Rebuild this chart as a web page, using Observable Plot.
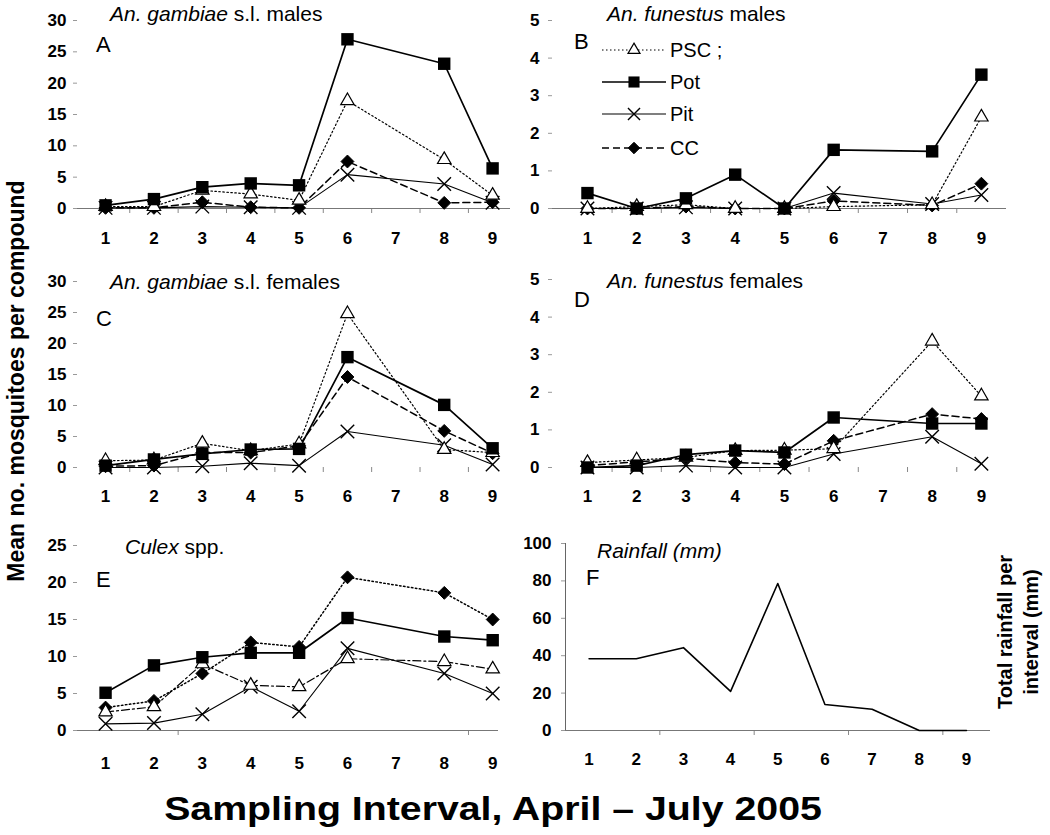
<!DOCTYPE html>
<html><head><meta charset="utf-8">
<script src="https://cdn.jsdelivr.net/npm/d3@7"></script>
<script src="https://cdn.jsdelivr.net/npm/@observablehq/plot@0.6"></script>
<style>
body{margin:0;background:#fff;}
#fig{position:relative;width:1050px;height:835px;font-family:"Liberation Sans",Arial,Helvetica,sans-serif;color:#000;overflow:hidden;background:#fff}
#fig svg{position:absolute;overflow:visible;background:transparent}
.t{position:absolute;white-space:nowrap;line-height:1;transform:translateY(-50%)}
.title{font-size:21px}
.letter{font-size:22px}
</style></head><body><div id="fig"></div><script>
// ---------- data ----------
const intervalLabels = [1,2,3,4,5,6,7,8,9];          // x tick labels
const sampled = [1,2,3,4,5,6,8,9];                     // intervals with mosquito data
const seriesNames = ["PSC","Pot","Pit","CC"];
const ticks30 = [0,5,10,15,20,25,30];
const ticks5 = [0,1,2,3,4,5];
const ticks25 = [0,5,10,15,20,25];
const ticks100 = [0,20,40,60,80,100];

// A: An. gambiae s.l. males
const gamMalesPSC = [0.3,0.3,2.9,2.3,1.3,17.2,7.8,2.1];
const gamMalesPot = [0.5,1.5,3.4,4.0,3.7,27.0,23.1,6.4];
const gamMalesPit = [0.1,0.1,0.3,0.2,0.1,5.4,3.9,0.9];
const gamMalesCC  = [0.1,0.1,1.0,0.2,0.1,7.5,0.9,1.0];
// B: An. funestus males
const funMalesPSC = [0,0.05,0.1,0,0,0.05,0.1,2.43];
const funMalesPot = [0.41,0,0.27,0.9,0,1.56,1.52,3.56];
const funMalesPit = [0,0,0.03,0,0,0.41,0.12,0.36];
const funMalesCC  = [0,0,0.05,0,0,0.2,0.08,0.66];
// C: An. gambiae s.l. females
const gamFemPSC = [1.1,1.2,3.9,2.7,3.8,24.8,2.9,2.4];
const gamFemPot = [0.3,1.3,2.2,2.9,3.0,17.8,10.1,3.1];
const gamFemPit = [0,0,0.2,0.7,0.3,5.8,3.6,0.5];
const gamFemCC  = [0.2,0.3,2.4,2.4,3.5,14.6,5.9,2.3];
// D: An. funestus females
const funFemPSC = [0.13,0.2,0.27,0.45,0.46,0.5,3.36,1.9];
const funFemPot = [0.0,0.05,0.34,0.45,0.4,1.33,1.17,1.17];
const funFemPit = [0,0,0.05,0,0,0.36,0.82,0.1];
const funFemCC  = [0.05,0.15,0.25,0.13,0.09,0.71,1.42,1.29];
// E: Culex spp.
const culexPSC = [2.5,3.2,9.0,6.1,5.9,9.7,9.3,8.3];
const culexPot = [5.1,8.8,9.9,10.5,10.5,15.2,12.7,12.2];
const culexPit = [0.9,1.0,2.2,5.9,2.6,11.1,7.7,5.0];
const culexCC  = [3.1,4.0,7.7,11.9,11.3,20.7,18.6,15.0];
// F: rainfall (mm) per interval 1..9
const rainfall = [38.4,38.4,44.3,20.9,78.6,13.9,11.4,0,0];

// ---------- styles ----------
const FONT = "Liberation Sans, Arial, Helvetica, sans-serif";
const style = {
  PSC: {dash:"1.5,2.5", sw:1.2, symbol:"triangle2", fill:"white", stroke:"black", r:6.4, msw:1.2},
  Pot: {dash:null, sw:1.7, symbol:"square", fill:"black", stroke:"black", r:7, msw:0},
  Pit: {dash:null, sw:1.1, symbol:"times", fill:"none", stroke:"black", r:6.2, msw:1.4},
  CC:  {dash:"7,4", sw:1.5, symbol:"diamond2", fill:"black", stroke:"black", r:5.8, msw:1}
};

const fig = document.getElementById("fig");

function panel({left, top, w, h, xd, xr, yd, yr, yticks, ygap, xpad, tickMarks, axisLine, series, rain, dashOverride}) {
  const marks = [];
  marks.push(Plot.axisY(yticks, {tickSize:4, tickPadding:ygap, stroke:"#999", fill:"#000", fontWeight:"bold", label:null}));
  marks.push(Plot.axisX(intervalLabels, {tickSize:0, tickPadding:xpad, fill:"#000", fontWeight:"bold", label:null}));
  marks.push(Plot.axisX(tickMarks, {tickSize:5, tickFormat:() => "", stroke:"#888", label:null}));
  if (axisLine) marks.push(Plot.ruleY([yd[0]], {stroke:"#777", strokeWidth:1}));
  if (rain) {
    marks.push(Plot.ruleX([xd[0]], {stroke:"#666", strokeWidth:1}));
    marks.push(Plot.line(intervalLabels.map((x,i)=>({x, v:rain[i]})), {x:"x", y:"v", stroke:"black", strokeWidth:1.6}));
  }
  if (series) {
    for (const name of seriesNames) {
      const st = style[name];
      const dash = dashOverride && dashOverride[name] !== undefined ? dashOverride[name] : st.dash;
      const rows = sampled.map((x,i)=>({x, v:series[name][i]}));
      marks.push(Plot.line(rows, {x:"x", y:"v", stroke:"black", strokeWidth:st.sw, strokeDasharray:dash || undefined}));
    }
    for (const name of ["Pit","CC","PSC","Pot"]) {
      const st = style[name];
      const rows = sampled.map((x,i)=>({x, v:series[name][i]}));
      marks.push(Plot.dot(rows, {x:"x", y:"v", symbol:()=>st.symbol, r:st.r, fill:st.fill, stroke:st.stroke, strokeWidth:st.msw}));
    }
  }
  const svg = Plot.plot({
    width:w, height:h,
    marginLeft: xr[0]-left, marginRight: left+w-xr[1],
    marginTop: yr[1]-top, marginBottom: top+h-yr[0],
    x:{domain:xd, axis:null, label:null},
    y:{domain:yd, axis:null, label:null},
    symbol:{type:"identity"},
    style:{fontFamily:FONT, fontSize:"17px", background:"transparent", overflow:"visible"},
    marks
  });
  svg.style.left = left+"px";
  svg.style.top = top+"px";
  fig.appendChild(svg);
}

const bA = [1.5,2.5,3.5,4.5,5.5,6.5,7.5,8.5];
panel({left:0, top:0, w:525, h:260, xd:[0.42,9.37], xr:[77,510], yd:[0,30], yr:[208,20], yticks:ticks30, ygap:7, xpad:23, tickMarks:bA, axisLine:true,
  series:{PSC:gamMalesPSC, Pot:gamMalesPot, Pit:gamMalesPit, CC:gamMalesCC}});
panel({left:520, top:0, w:530, h:260, xd:[0.29,9.51], xr:[552,1006], yd:[0,5], yr:[208,20], yticks:ticks5, ygap:9, xpad:23, tickMarks:bA, axisLine:true,
  series:{PSC:funMalesPSC, Pot:funMalesPot, Pit:funMalesPit, CC:funMalesCC}});
panel({left:0, top:260, w:525, h:255, xd:[0.42,9.37], xr:[77,510], yd:[0,30], yr:[467,281], yticks:ticks30, ygap:7, xpad:22, tickMarks:bA, axisLine:false,
  series:{PSC:gamFemPSC, Pot:gamFemPot, Pit:gamFemPit, CC:gamFemCC}});
panel({left:520, top:260, w:530, h:255, xd:[0.29,9.51], xr:[552,1006], yd:[0,5], yr:[467,279], yticks:ticks5, ygap:9, xpad:22, tickMarks:bA, axisLine:false,
  series:{PSC:funFemPSC, Pot:funFemPot, Pit:funFemPit, CC:funFemCC}});
panel({left:0, top:515, w:525, h:265, xd:[0.42,9.12], xr:[77,498], yd:[0,25], yr:[730,545], yticks:ticks25, ygap:7, xpad:26, tickMarks:[2.5,8.5], axisLine:true,
  series:{PSC:culexPSC, Pot:culexPot, Pit:culexPit, CC:culexCC}, dashOverride:{PSC:"8,3,2,3", CC:"1.5,2.5"}});
panel({left:520, top:515, w:530, h:265, xd:[0.5,9.51], xr:[565,990], yd:[0,100], yr:[730,543], yticks:ticks100, ygap:10, xpad:22, tickMarks:[2.5,4.5,6.5,8.5], axisLine:true,
  rain:rainfall});

// ---------- legend (panel B) ----------
const leg = d3.select(fig).append("svg").attr("width",140).attr("height",130)
  .style("left","598px").style("top","32px");
const legY = [18, 50, 82, 116];
seriesNames.forEach((name,i)=>{
  const st = style[name];
  const g = leg.append("g").attr("transform",`translate(0,${legY[i]})`);
  g.append("line").attr("x1",4).attr("x2",68).attr("y1",0).attr("y2",0)
    .attr("stroke","black").attr("stroke-width",st.sw).attr("stroke-dasharray",st.dash);
  const sym = {triangle2:d3.symbolTriangle2, square:d3.symbolSquare, times:d3.symbolTimes, diamond2:d3.symbolDiamond2}[st.symbol];
  g.append("path").attr("transform","translate(36,0)")
    .attr("d", d3.symbol(sym, Math.PI*st.r*st.r*0.8)())
    .attr("fill", st.fill).attr("stroke", st.stroke).attr("stroke-width", st.msw);
  g.append("text").attr("x",72).attr("y",0).attr("dy","0.35em")
    .attr("font-family",FONT).attr("font-size",20).text(name === "PSC" ? "PSC ;" : name);
});

// ---------- texts ----------
function txt(html, cls, left, top, extra) {
  const d = document.createElement("div");
  d.className = "t " + cls;
  d.innerHTML = html;
  d.style.left = left+"px"; d.style.top = top+"px";
  if (extra) Object.assign(d.style, extra);
  fig.appendChild(d);
}
txt("<i>An. gambiae</i> s.l. males", "title", 110, 13);
txt("<i>An. funestus</i> males", "title", 607, 13);
txt("<i>An. gambiae</i> s.l. females", "title", 110, 281);
txt("<i>An. funestus</i> females", "title", 607, 280);
txt("<i>Culex</i> spp.", "title", 125, 546);
txt("<i>Rainfall (mm)</i>", "title", 597, 550);
txt("A", "letter", 96, 45);
txt("B", "letter", 574, 42);
txt("C", "letter", 96, 319);
txt("D", "letter", 574, 300);
txt("E", "letter", 96, 580);
txt("F", "letter", 586, 578);

// axis titles
const yl = document.createElement("div");
yl.textContent = "Mean no. mosquitoes per compound";
Object.assign(yl.style, {position:"absolute", left:"16px", top:"381px", fontSize:"23px", fontWeight:"bold",
  whiteSpace:"nowrap", lineHeight:"1", transform:"translate(-50%,-50%) rotate(-90deg)"});
fig.appendChild(yl);

const rl = document.createElement("div");
rl.innerHTML = "Total rainfall per<br>interval (mm)";
Object.assign(rl.style, {position:"absolute", left:"1018px", top:"632px", fontSize:"20px", fontWeight:"bold",
  whiteSpace:"nowrap", lineHeight:"1.3", textAlign:"center", transform:"translate(-50%,-50%) rotate(-90deg)"});
fig.appendChild(rl);

const xl = document.createElement("div");
xl.textContent = "Sampling Interval, April \u2013 July 2005";
Object.assign(xl.style, {position:"absolute", left:"493px", top:"808px", fontSize:"33px", fontWeight:"bold",
  whiteSpace:"nowrap", lineHeight:"1", transform:"translate(-50%,-50%) scaleX(1.19)"});
fig.appendChild(xl);
</script></body></html>
